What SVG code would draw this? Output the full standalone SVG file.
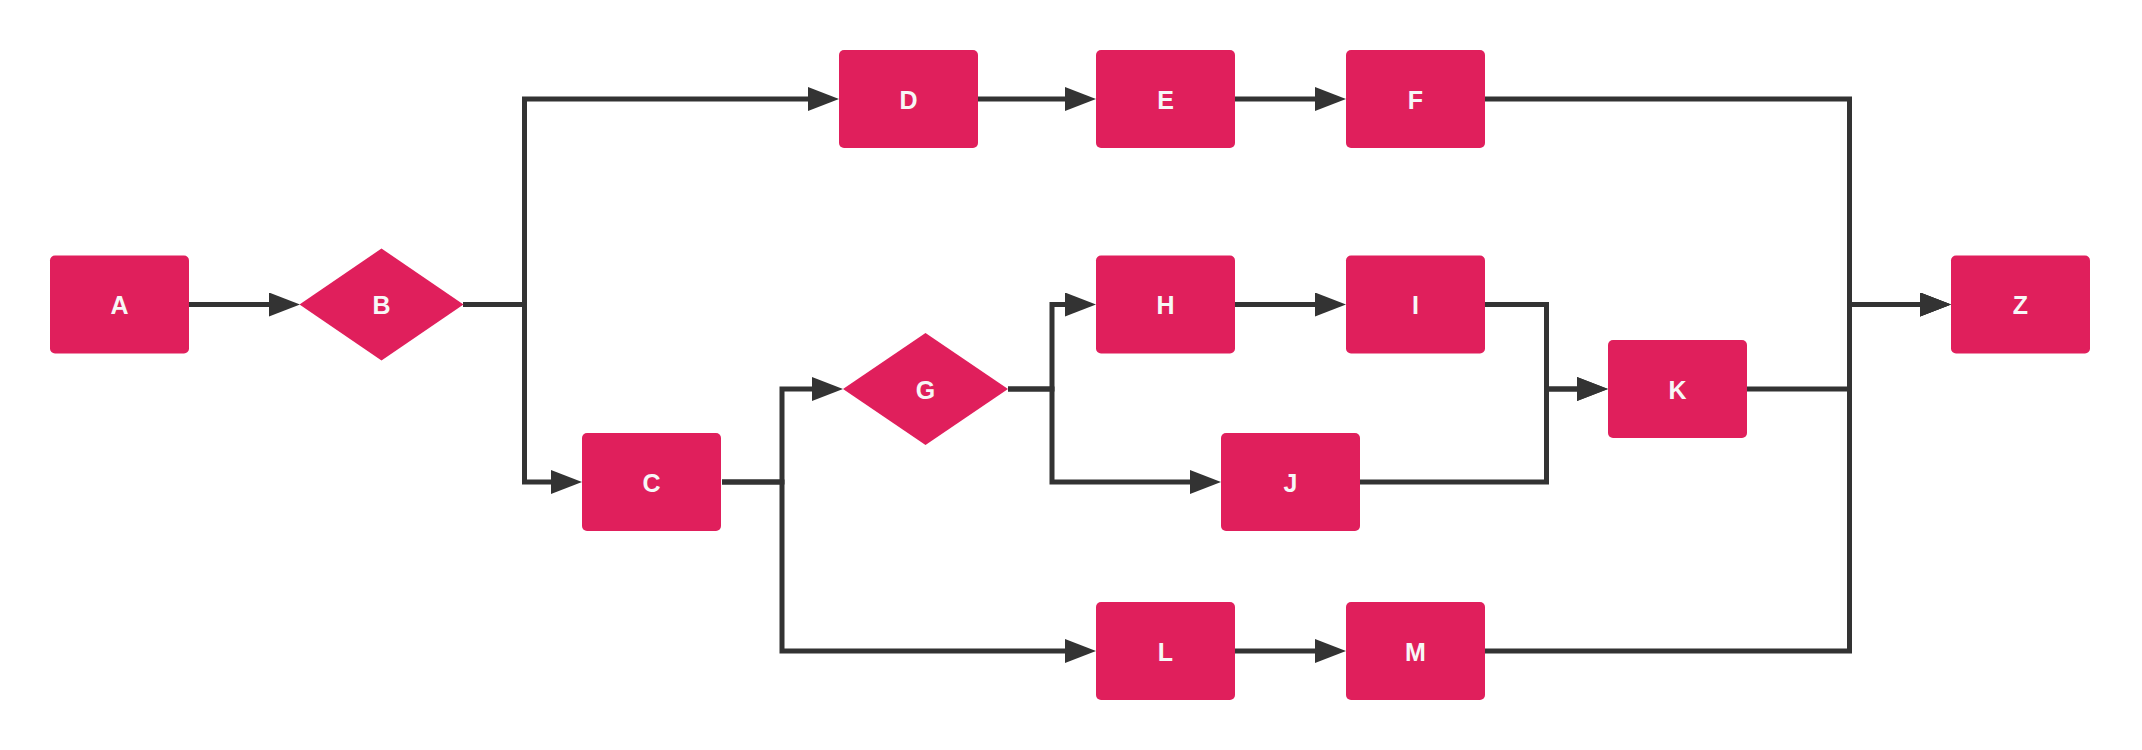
<svg xmlns="http://www.w3.org/2000/svg" width="2142" height="750" viewBox="0 0 2142 750">
<style>
.n rect, .n polygon { fill: #E01F5C; }
.n text { fill: #F7F7F7; font-family: "Liberation Sans", Arial, sans-serif; font-size: 25px; font-weight: bold; text-anchor: middle; dominant-baseline: central; }
.c path { fill: none; stroke: #333333; stroke-width: 5; stroke-linejoin: miter; marker-end: url(#arr); }
</style>
<defs>
<marker id="arr" markerWidth="31" markerHeight="24" refX="2" refY="12" orient="auto" markerUnits="userSpaceOnUse">
<path d="M0,0 L31,12 L0,24 z" fill="#333333"/>
</marker>
</defs>
<rect width="2142" height="750" fill="#ffffff"/>
<g class="c" id="connectors">
<path d="M189,304.5 H271"/>
<path d="M463,304.5 H524.5 V99 H810"/>
<path d="M524.5,304.5 V482 H553"/>
<path d="M978,99 H1067"/>
<path d="M1235,99 H1317"/>
<path d="M1484,99 H1849.5 V304.5 H1922"/>
<path d="M722,482 H782 V389 H814"/>
<path d="M722,482 H782 V651 H1067"/>
<path d="M1008,389 H1052 V304.5 H1067"/>
<path d="M1008,389 H1052 V482 H1192"/>
<path d="M1235,304.5 H1317"/>
<path d="M1484,304.5 H1546.5 V389 H1579"/>
<path d="M1359,482 H1546.5 V389 H1579"/>
<path d="M1747,389 H1849.5 V304.5 H1922"/>
<path d="M1235,651 H1317"/>
<path d="M1484,651 H1849.5 V304.5 H1922"/>
</g>
<g class="n" id="node-A"><rect x="50" y="255.5" width="139" height="98" rx="5"/><text x="119.5" y="305">A</text></g>
<g class="n" id="node-B"><polygon points="299.5,304.5 381.5,248.5 463.5,304.5 381.5,360.5"/><text x="381.5" y="305">B</text></g>
<g class="n" id="node-C"><rect x="582" y="433" width="139" height="98" rx="5"/><text x="651.5" y="482.5">C</text></g>
<g class="n" id="node-D"><rect x="839" y="50" width="139" height="98" rx="5"/><text x="908.5" y="99.5">D</text></g>
<g class="n" id="node-E"><rect x="1096" y="50" width="139" height="98" rx="5"/><text x="1165.5" y="99.5">E</text></g>
<g class="n" id="node-F"><rect x="1346" y="50" width="139" height="98" rx="5"/><text x="1415.5" y="99.5">F</text></g>
<g class="n" id="node-G"><polygon points="843,389 925.5,333 1008,389 925.5,445"/><text x="925.5" y="389.5">G</text></g>
<g class="n" id="node-H"><rect x="1096" y="255.5" width="139" height="98" rx="5"/><text x="1165.5" y="305">H</text></g>
<g class="n" id="node-I"><rect x="1346" y="255.5" width="139" height="98" rx="5"/><text x="1415.5" y="305">I</text></g>
<g class="n" id="node-J"><rect x="1221" y="433" width="139" height="98" rx="5"/><text x="1290.5" y="482.5">J</text></g>
<g class="n" id="node-K"><rect x="1608" y="340" width="139" height="98" rx="5"/><text x="1677.5" y="389.5">K</text></g>
<g class="n" id="node-L"><rect x="1096" y="602" width="139" height="98" rx="5"/><text x="1165.5" y="651.5">L</text></g>
<g class="n" id="node-M"><rect x="1346" y="602" width="139" height="98" rx="5"/><text x="1415.5" y="651.5">M</text></g>
<g class="n" id="node-Z"><rect x="1951" y="255.5" width="139" height="98" rx="5"/><text x="2020.5" y="305">Z</text></g>
</svg>
